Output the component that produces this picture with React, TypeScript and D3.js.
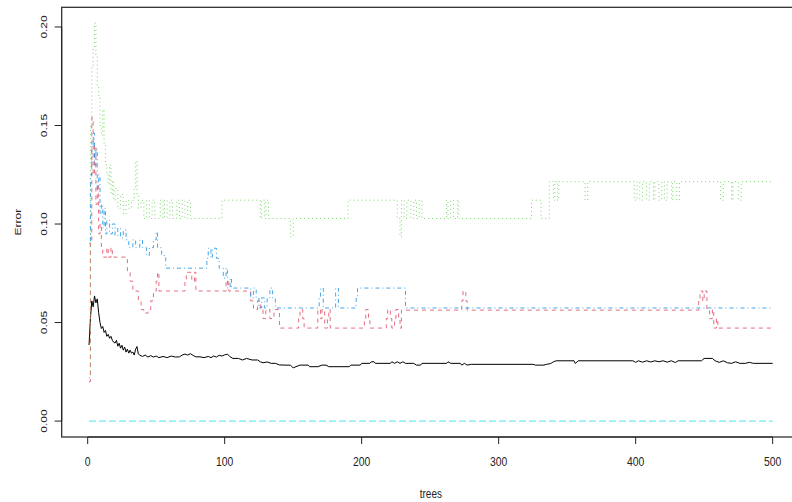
import React from "react";
import * as d3 from "d3";

// Out-of-bag error and per-class error of a random forest, by number of trees.
// Class series are stored as change points: [tree, error] holds until the next entry.

const oobErr: [number, number][] = [
  [1, 0.0386], [2, 0.052], [3, 0.061], [4, 0.058], [5, 0.0635], [6, 0.06], [7, 0.062], [8, 0.055],
  [9, 0.05], [10, 0.047], [11, 0.048], [12, 0.045], [13, 0.046], [14, 0.043], [15, 0.044], [16, 0.042],
  [17, 0.043], [18, 0.041], [19, 0.04], [20, 0.0396], [21, 0.041], [22, 0.038], [23, 0.0395], [24, 0.037],
  [25, 0.0385], [26, 0.036], [27, 0.0375], [28, 0.035], [29, 0.0365], [30, 0.0345], [31, 0.036], [32, 0.0345],
  [33, 0.035], [34, 0.0335], [35, 0.0365], [36, 0.0378], [37, 0.034], [38, 0.0335], [40, 0.0328], [42, 0.0335],
  [44, 0.0325], [46, 0.0332], [48, 0.0325], [50, 0.033], [52, 0.0322], [55, 0.0328], [58, 0.0322], [61, 0.033],
  [64, 0.0325], [67, 0.0326], [69, 0.0335], [71, 0.034], [73, 0.0335], [75, 0.0342], [77, 0.0333], [79, 0.0326],
  [82, 0.0326], [85, 0.0322], [88, 0.0328], [90, 0.0322], [92, 0.033], [94, 0.0325], [96, 0.0334], [98, 0.033],
  [100, 0.0336], [102, 0.034], [104, 0.0326], [106, 0.0318], [110, 0.0318], [113, 0.031], [116, 0.0318], [120, 0.031],
  [124, 0.031], [126, 0.0301], [128, 0.0296], [131, 0.03], [134, 0.0293], [137, 0.0293], [140, 0.0285], [144, 0.0284],
  [148, 0.0284], [150, 0.027], [152, 0.0276], [155, 0.0284], [161, 0.0284], [162, 0.0276], [168, 0.0276], [171, 0.0284],
  [174, 0.0284], [176, 0.0276], [191, 0.0276], [192, 0.0284], [199, 0.0284], [200, 0.0293], [206, 0.0293], [207, 0.0301],
  [209, 0.0301], [210, 0.0293], [221, 0.0293], [222, 0.0301], [224, 0.0293], [226, 0.0301], [228, 0.0293], [230, 0.0301],
  [232, 0.0293], [238, 0.0293], [240, 0.0284], [243, 0.0284], [244, 0.0293], [262, 0.0293], [263, 0.0301], [265, 0.0293],
  [272, 0.0293], [273, 0.0284], [275, 0.0293], [277, 0.0284], [280, 0.0288], [325, 0.0288], [327, 0.0284], [333, 0.0284],
  [335, 0.0288], [338, 0.0292], [340, 0.0301], [342, 0.0306], [355, 0.0306], [356, 0.0292], [358, 0.0306], [398, 0.0306],
  [400, 0.0298], [402, 0.0306], [405, 0.0299], [408, 0.0306], [411, 0.03], [414, 0.0306], [417, 0.0301], [420, 0.0306],
  [423, 0.0299], [426, 0.0306], [429, 0.0297], [431, 0.0306], [448, 0.0306], [450, 0.0318], [456, 0.0318], [458, 0.0306],
  [461, 0.0298], [464, 0.0306], [467, 0.0296], [470, 0.0293], [473, 0.0301], [476, 0.0293], [480, 0.0293], [483, 0.0298],
  [486, 0.0293], [500, 0.0293],
];

const class1Err: [number, number][] = [
  [1, 0.02], [2, 0.09], [3, 0.154], [4, 0.125], [5, 0.14], [6, 0.11], [7, 0.12], [8, 0.095], [9, 0.1], [10, 0.088],
  [11, 0.0832], [14, 0.088], [15, 0.0832], [17, 0.088], [18, 0.0832], [29, 0.0755], [31, 0.071], [33, 0.066],
  [37, 0.061], [39, 0.0566], [41, 0.0548], [44, 0.0566], [46, 0.061], [48, 0.066], [50, 0.071], [51, 0.0755],
  [52, 0.066], [71, 0.071], [72, 0.0755], [76, 0.071], [78, 0.0755], [79, 0.066], [101, 0.071], [103, 0.066],
  [119, 0.061], [121, 0.0566], [124, 0.061], [126, 0.0566], [128, 0.052], [130, 0.0566], [133, 0.052], [136, 0.0566],
  [140, 0.0472], [154, 0.052], [155, 0.0566], [157, 0.052], [158, 0.0472], [168, 0.0566], [170, 0.052], [171, 0.0566],
  [173, 0.0472], [175, 0.052], [176, 0.0566], [177, 0.0472], [202, 0.052], [203, 0.0566], [205, 0.052], [206, 0.0472],
  [218, 0.052], [219, 0.0566], [221, 0.052], [222, 0.0472], [224, 0.052], [225, 0.0566], [227, 0.052], [228, 0.0472],
  [229, 0.0563], [273, 0.061], [274, 0.066], [276, 0.061], [277, 0.0563], [446, 0.061], [447, 0.066], [449, 0.061],
  [450, 0.066], [452, 0.0566], [454, 0.052], [456, 0.0566], [457, 0.0472], [459, 0.052], [460, 0.0472], [500, 0.0472],
];

const class2Err: [number, number][] = [
  [1, 0.022], [2, 0.15], [3, 0.18], [4, 0.19], [5, 0.2019], [6, 0.185], [7, 0.17], [8, 0.165], [9, 0.15], [10, 0.145],
  [11, 0.158], [12, 0.14], [13, 0.13], [14, 0.125], [15, 0.12], [16, 0.13], [17, 0.115], [18, 0.122], [19, 0.112],
  [20, 0.118], [22, 0.108], [24, 0.115], [26, 0.105], [28, 0.112], [30, 0.108], [32, 0.112], [34, 0.118], [35, 0.132],
  [36, 0.115], [37, 0.108], [39, 0.112], [41, 0.1028], [43, 0.1121], [45, 0.1028], [47, 0.1121], [49, 0.1028],
  [53, 0.1121], [55, 0.1028], [56, 0.1121], [58, 0.1028], [60, 0.1121], [62, 0.1028], [65, 0.1121], [67, 0.1028],
  [69, 0.1121], [71, 0.1028], [73, 0.1121], [75, 0.1028], [98, 0.1121], [126, 0.1028], [127, 0.1121], [129, 0.1028],
  [130, 0.1121], [132, 0.1028], [148, 0.0935], [150, 0.1028], [190, 0.1121], [226, 0.1028], [228, 0.0935], [229, 0.1121],
  [231, 0.1028], [233, 0.1121], [236, 0.1028], [238, 0.1121], [240, 0.1028], [242, 0.1121], [244, 0.1028], [262, 0.1121],
  [263, 0.1028], [265, 0.1121], [267, 0.1028], [270, 0.1121], [271, 0.1028], [324, 0.1121], [331, 0.1028], [337, 0.1215],
  [340, 0.1121], [341, 0.1215], [343, 0.1121], [344, 0.1215], [363, 0.1121], [365, 0.1215], [399, 0.1121], [401, 0.1215],
  [403, 0.1121], [405, 0.1215], [408, 0.1121], [410, 0.1215], [413, 0.1121], [414, 0.1215], [417, 0.1121], [419, 0.1215],
  [421, 0.1121], [423, 0.1215], [426, 0.1121], [427, 0.1215], [430, 0.1121], [432, 0.1215], [462, 0.1121], [464, 0.1215],
  [470, 0.1121], [471, 0.1215], [475, 0.1121], [477, 0.1215], [500, 0.1215],
];

const class3Err: [number, number][] = [
  [1, 0.09], [2, 0.125], [3, 0.14], [4, 0.146], [5, 0.13], [6, 0.138], [7, 0.118], [8, 0.125], [9, 0.105], [10, 0.11],
  [11, 0.098], [12, 0.108], [13, 0.095], [14, 0.102], [16, 0.095], [18, 0.1], [20, 0.094], [22, 0.098], [24, 0.093],
  [26, 0.097], [28, 0.092], [30, 0.088], [33, 0.092], [35, 0.088], [38, 0.092], [40, 0.088], [43, 0.084], [45, 0.088],
  [48, 0.092], [50, 0.096], [51, 0.088], [54, 0.084], [57, 0.0776], [87, 0.0826], [88, 0.0877], [90, 0.0826],
  [91, 0.0877], [94, 0.0826], [96, 0.0776], [99, 0.0725], [101, 0.0776], [102, 0.0675], [104, 0.0725], [105, 0.0675],
  [119, 0.0625], [121, 0.0675], [123, 0.0625], [125, 0.0574], [127, 0.0625], [129, 0.0574], [131, 0.0625], [133, 0.0675],
  [135, 0.0625], [137, 0.0574], [169, 0.0625], [170, 0.0675], [172, 0.0574], [181, 0.0675], [183, 0.0574], [196, 0.0625],
  [197, 0.0675], [232, 0.0574], [500, 0.0574],
];

const class4Err: [number, number][] = [[1, 0], [500, 0]];

const xTicks = [0, 100, 200, 300, 400, 500];
const yTicks = [0, 0.05, 0.1, 0.15, 0.2];
const yTickLabels = ["0.00", "0.05", "0.10", "0.15", "0.20"];

const seriesStyles = [
  { data: oobErr, color: "#000000", dash: "", step: false },
  { data: class1Err, color: "#DF536B", dash: "4 4", step: true },
  { data: class2Err, color: "#61D04F", dash: "1 3", step: true },
  { data: class3Err, color: "#2297E6", dash: "1 3 4 3", step: true },
  { data: class4Err, color: "#28E2E5", dash: "7 3", step: true },
];

const W = 792;
const H = 502;
const FONT = "'Liberation Sans', Arial, Helvetica, sans-serif";
const SQUEEZE = 0.83;

export default function App() {
  const nTrees = 500;
  const maxErr = d3.max(seriesStyles.flatMap((s) => s.data.map((d) => d[1]))) as number;
  const xPad = (nTrees - 1) * 0.04;
  const yPad = maxErr * 0.04;

  const x = d3.scaleLinear().domain([1 - xPad, nTrees + xPad]).range([61.7, 800]);
  const y = d3.scaleLinear().domain([-yPad, maxErr + yPad]).range([437, 7.3]);

  const [x0, x1] = x.range();
  const [yb, yt] = y.range();

  const makePath = (data: [number, number][], step: boolean) => {
    const gen = d3
      .line<[number, number]>()
      .x((d) => x(d[0]))
      .y((d) => y(d[1]))
      .curve(step ? d3.curveStepAfter : d3.curveLinear);
    return gen(data) || "";
  };

  return (
    <svg
      width={W}
      height={H}
      viewBox={`0 0 ${W} ${H}`}
      style={{ position: "fixed", left: 0, top: 0, background: "#fff" }}
    >
      <rect width={W} height={H} fill="#fff" />
      <defs>
        <clipPath id="plot-area">
          <rect x={x0} y={yt} width={x1 - x0} height={yb - yt} />
        </clipPath>
      </defs>

      <g clipPath="url(#plot-area)">
        {seriesStyles.map((s, i) => (
          <path
            key={i}
            d={makePath(s.data, s.step)}
            fill="none"
            stroke={s.color}
            strokeWidth={1}
            strokeDasharray={s.dash || undefined}
            strokeOpacity={s.step ? 0.85 : 1}
          />
        ))}
      </g>

      {/* plot frame */}
      <rect x={x0} y={yt} width={x1 - x0} height={yb - yt} fill="none" stroke="#222" strokeWidth={1.2} />

      {/* x axis */}
      <line x1={x(xTicks[0])} x2={x(xTicks[xTicks.length - 1])} y1={yb} y2={yb} stroke="#222" />
      {xTicks.map((t) => (
        <g key={`xt${t}`}>
          <line x1={x(t)} x2={x(t)} y1={yb} y2={yb + 7} stroke="#222" />
          <text
            transform={`translate(${x(t)},${yb + 29}) scale(${SQUEEZE},1)`}
            textAnchor="middle"
            fontFamily={FONT}
            fontSize={12.5}
            fill="#222"
          >
            {t}
          </text>
        </g>
      ))}

      {/* y axis */}
      <line x1={x0} x2={x0} y1={y(yTicks[0])} y2={y(yTicks[yTicks.length - 1])} stroke="#222" />
      {yTicks.map((t, i) => (
        <g key={`yt${t}`}>
          <line x1={x0} x2={x0 - 7} y1={y(t)} y2={y(t)} stroke="#222" />
          <text
            transform={`translate(${x0 - 15},${y(t)}) scale(${SQUEEZE},1) rotate(-90)`}
            textAnchor="middle"
            fontFamily={FONT}
            fontSize={12}
            fill="#222"
          >
            {yTickLabels[i]}
          </text>
        </g>
      ))}

      {/* axis titles */}
      <text
        transform={`translate(${(x0 + x1) / 2},${H - 4}) scale(${SQUEEZE},1)`}
        textAnchor="middle"
        fontFamily={FONT}
        fontSize={12}
        fill="#222"
      >
        trees
      </text>
      <text
        transform={`translate(21,${(yt + yb) / 2}) scale(${SQUEEZE},1) rotate(-90)`}
        textAnchor="middle"
        fontFamily={FONT}
        fontSize={12}
        fill="#222"
      >
        Error
      </text>
    </svg>
  );
}
